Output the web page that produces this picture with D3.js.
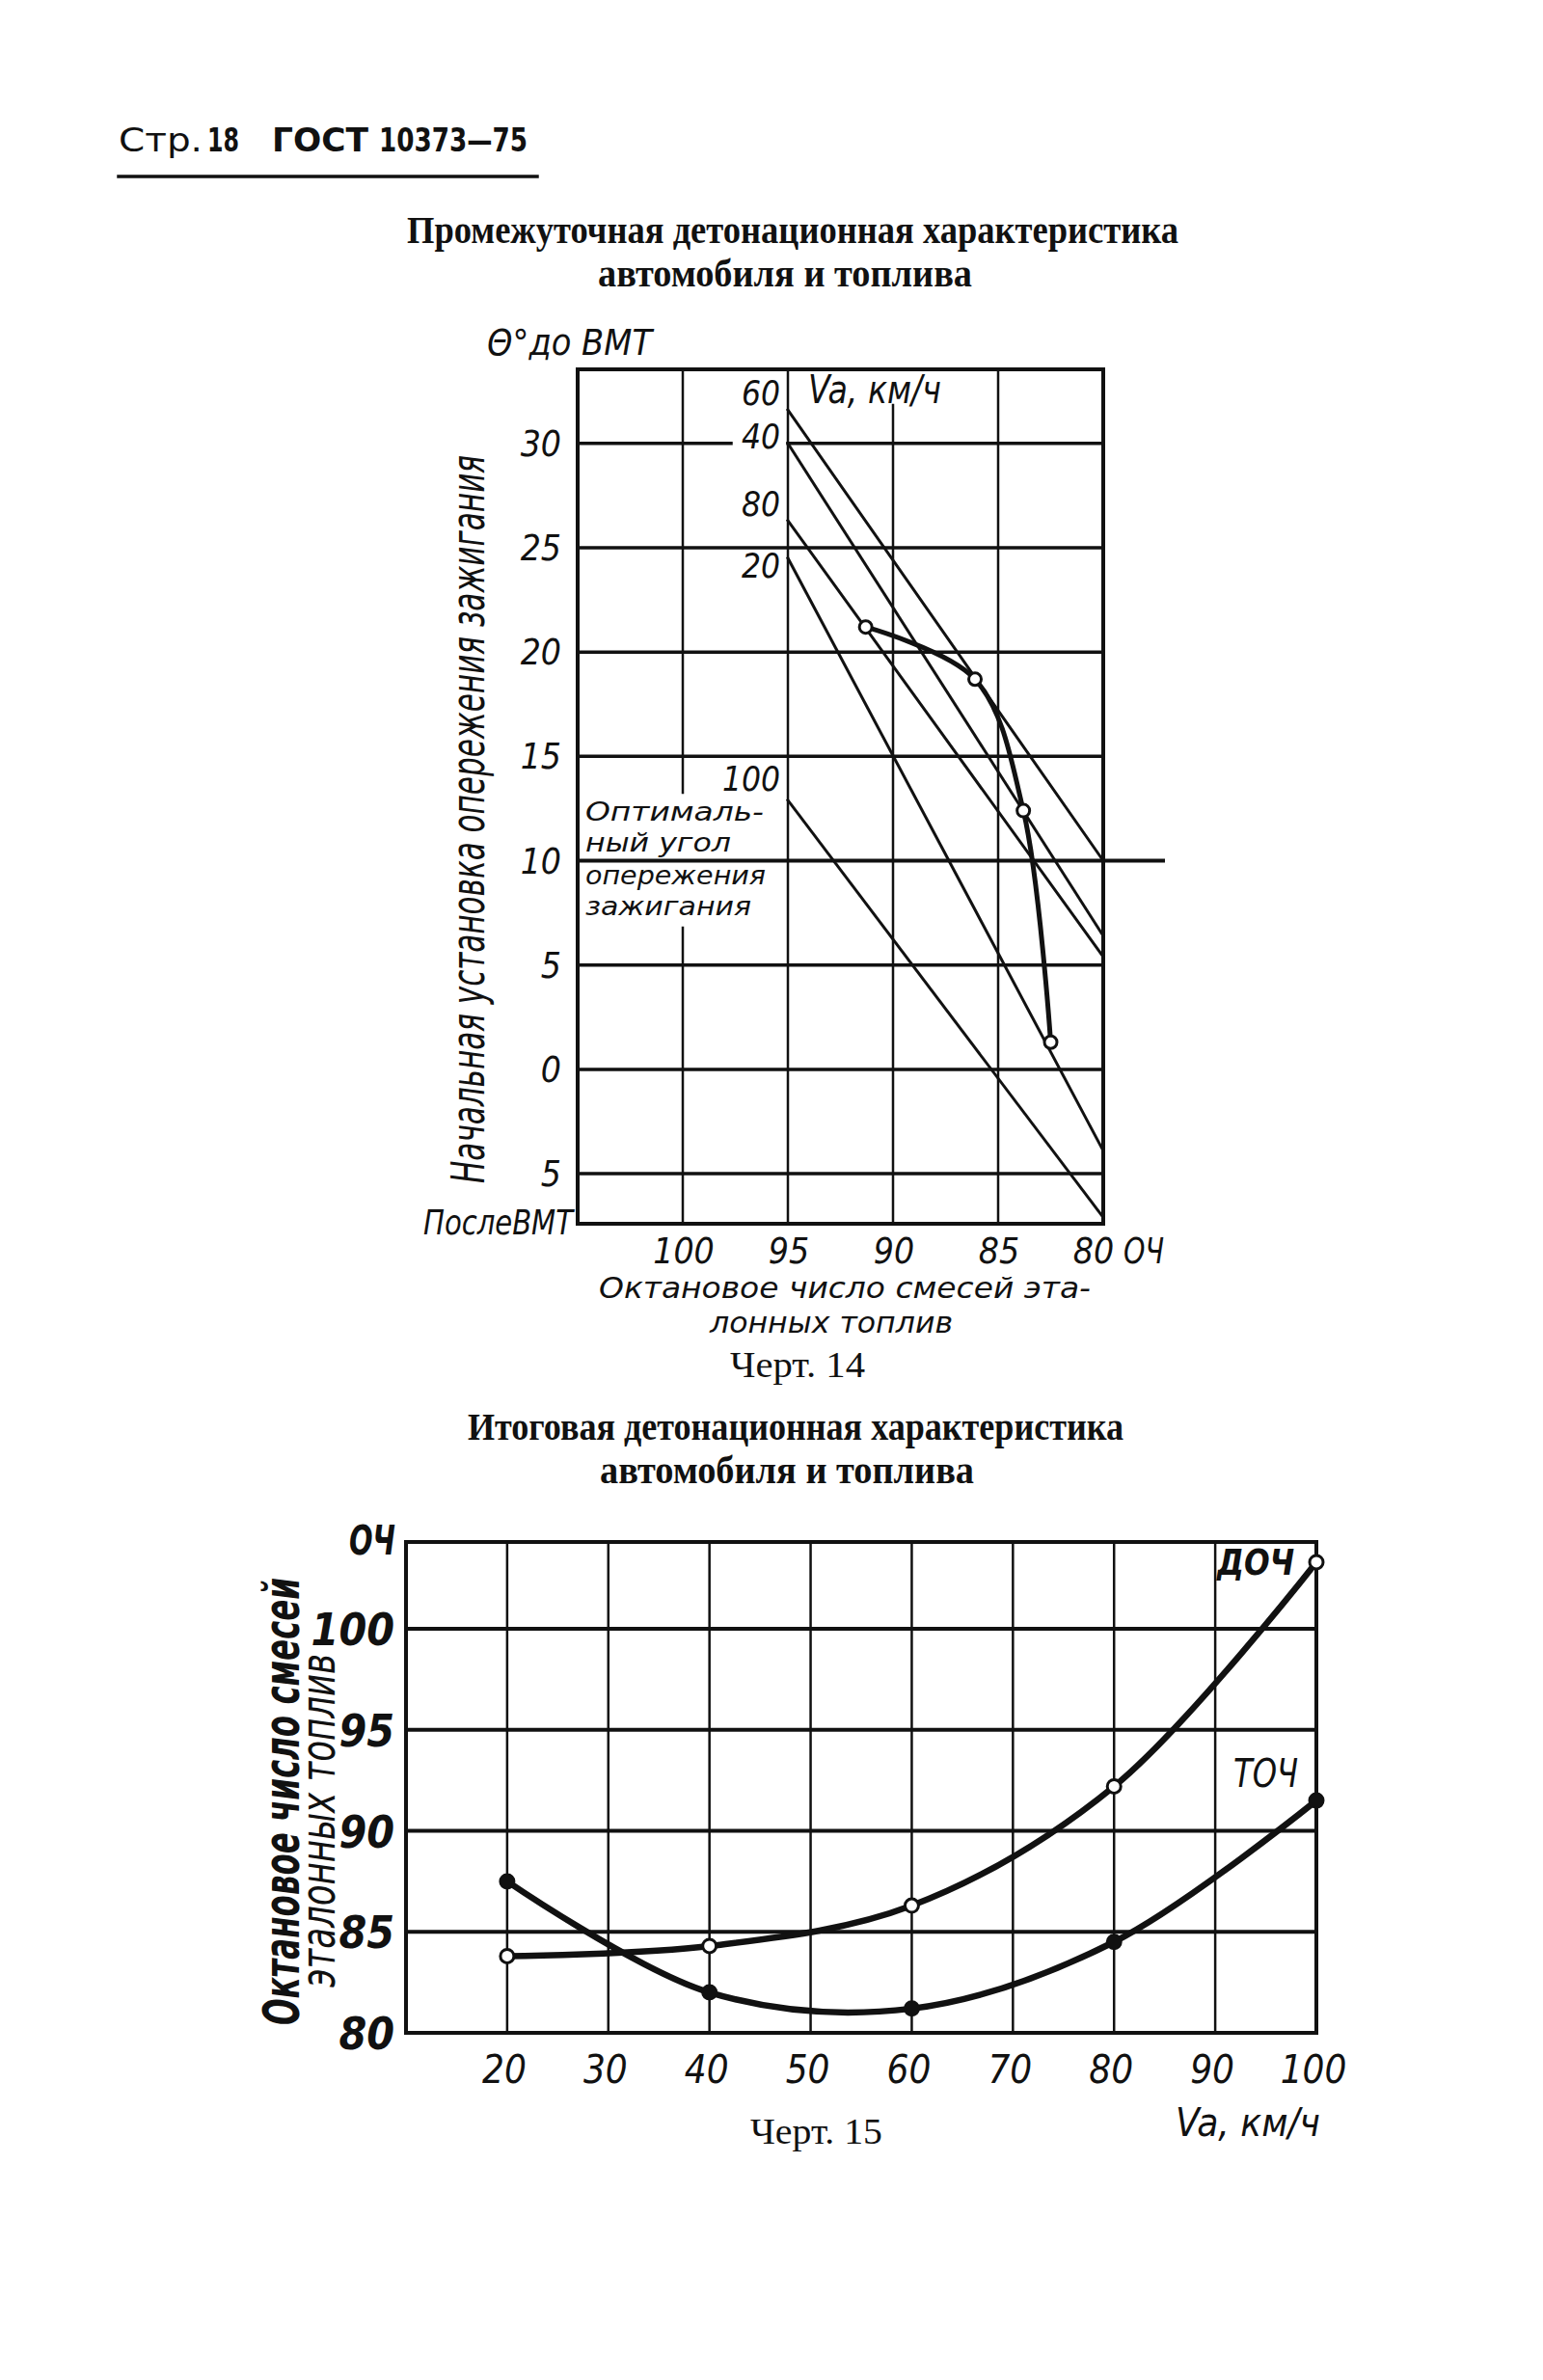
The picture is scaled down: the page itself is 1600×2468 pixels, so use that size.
<!DOCTYPE html>
<html><head><meta charset="utf-8">
<script src="https://cdn.jsdelivr.net/npm/d3@7"></script>
<style>html,body{margin:0;padding:0;background:#fff}</style>
</head><body>
<script>
// ---------- DATA ----------
// Chart 14 (intermediate characteristic)
const octaneTicks = [100, 95, 90, 85, 80];
const advanceTicks = [30, 25, 20, 15, 10, 5, 0, -5];
const vaLineSpeeds = [60, 40, 80, 20, 100];
const vaLineAt95 = [31.6, 30.0, 26.3, 24.5, 12.9];   // advance at ОЧ 95
const vaLineAt80 = [10.0, 6.4, 5.4, -3.9, -7.1];     // advance at ОЧ 80
const optOctane = [91.3, 86.1, 83.8, 82.5];
const optAdvance = [21.2, 18.7, 12.4, 1.3];
const optimalAngle = 10;
// Chart 15 (final characteristic)
const speedTicks = [20, 30, 40, 50, 60, 70, 80, 90, 100];
const octaneTicks2 = [100, 95, 90, 85, 80];
const vaPoints = [20, 40, 60, 80, 100];
const dochValues = [83.8, 84.3, 86.3, 92.2, 103.3];
const tochValues = [87.5, 82.0, 81.2, 84.5, 91.5];

// ---------- SETUP ----------
const W = 1600, H = 2468, INK = "#111";
const svg = d3.select("body").append("svg").attr("width", W).attr("height", H);
svg.append("rect").attr("width", W).attr("height", H).attr("fill", "#fff");

const DRAFT = "'DejaVu Sans Condensed', 'DejaVu Sans', sans-serif";
const SERIF = "'Liberation Serif', 'DejaVu Serif', serif";
const SANS = "'DejaVu Sans', 'Liberation Sans', sans-serif";

function styleText(t, o) {
  return t.attr("fill", INK)
    .attr("font-family", o.family || DRAFT)
    .attr("font-size", o.size || 34)
    .attr("font-style", o.style || "normal")
    .attr("font-weight", o.weight || "normal")
    .attr("text-anchor", o.anchor || "start");
}
function txt(x, y, s, o) {
  const t = styleText(svg.append("text").attr("x", x).attr("y", y).text(s), o);
  if (o.len) t.attr("textLength", o.len).attr("lengthAdjust", "spacingAndGlyphs");
  if (o.rot) t.attr("transform", `rotate(${o.rot},${x},${y})`);
  return t;
}
// multi-line block as one text element: lines = [[x, y, string, len], ...]
function block(lines, o) {
  const t = styleText(svg.append("text"), o);
  lines.forEach(([x, y, s, len]) => {
    const sp = t.append("tspan").attr("x", x).attr("y", y).text(s);
    if (len) sp.attr("textLength", len).attr("lengthAdjust", "spacingAndGlyphs");
  });
  return t;
}
function seg(x1, y1, x2, y2, w) {
  svg.append("line").attr("x1", x1).attr("y1", y1).attr("x2", x2).attr("y2", y2)
    .attr("stroke", INK).attr("stroke-width", w).attr("stroke-linecap", "square");
}

// ---------- HEADER ----------
txt(123, 157, "Стр.", {family: SANS, size: 34, len: 87});
txt(215, 157, "18", {family: SANS, size: 34, weight: "bold", len: 33});
txt(282, 157, "ГОСТ", {family: SANS, size: 34, weight: "bold", len: 100});
txt(393, 157, "10373—75", {family: SANS, size: 34, weight: "bold", len: 154});
seg(123, 183, 557, 183, 3.5);

// ---------- CHART 14 ----------
const x1 = d3.scaleLinear().domain([105, 80]).range([599, 1144]);
const y1 = d3.scaleLinear().domain([-7.4, 33.55]).range([1269, 383]);
const L1 = x1(105), R1 = x1(80), T1 = y1(33.55), B1 = y1(-7.4);

block([[422, 252, "Промежуточная детонационная характеристика", 800],
       [620, 297, "автомобиля и топлива", 388]],
      {family: SERIF, size: 40, weight: "bold"});

// vertical gridlines
octaneTicks.slice(0, 4).forEach(v => {
  const xx = x1(v);
  if (v === 100) { seg(xx, T1, xx, 822, 2.5); seg(xx, 962, xx, B1, 2.5); }
  else if (v === 90) { seg(xx, 420, xx, B1, 2.5); }
  else seg(xx, T1, xx, B1, 2.5);
});
// horizontal gridlines
advanceTicks.forEach(v => {
  const yy = y1(v);
  if (v === 30) { seg(L1, yy, 758, yy, 3.5); seg(x1(95), yy, R1, yy, 3.5); }
  else if (v === optimalAngle) { seg(L1, yy, 1206, yy, 4); }
  else seg(L1, yy, R1, yy, 3.5);
});
// frame
svg.append("rect").attr("x", L1).attr("y", T1).attr("width", R1 - L1).attr("height", B1 - T1)
  .attr("fill", "none").attr("stroke", INK).attr("stroke-width", 4);

// Va lines
vaLineSpeeds.forEach((s, i) => {
  seg(x1(95), y1(vaLineAt95[i]), x1(80), y1(vaLineAt80[i]), 3);
});
// optimal curve
const optPts = optOctane.map((o, i) => [x1(o), y1(optAdvance[i])]);
svg.append("path").attr("d", d3.line().curve(d3.curveCatmullRom.alpha(0.5))(optPts))
  .attr("fill", "none").attr("stroke", INK).attr("stroke-width", 5);
svg.selectAll("c.opt").data(optPts).enter().append("circle")
  .attr("cx", d => d[0]).attr("cy", d => d[1]).attr("r", 6.5)
  .attr("fill", "#fff").attr("stroke", INK).attr("stroke-width", 3);

// labels chart 14
txt(505, 368, "Θ°до ВМТ", {style: "oblique", size: 38, len: 171});
advanceTicks.forEach(v => {
  txt(582, y1(v) + 13, String(Math.abs(v)), {style: "oblique", size: 37, anchor: "end"});
});
txt(439, 1280, "ПослеВМТ", {style: "oblique", size: 36, len: 155});
octaneTicks.slice(0, 4).forEach(v => {
  txt(x1(v) + 1, 1310, String(v), {style: "oblique", size: 37, anchor: "middle"});
});
txt(x1(80) - 10, 1310, "80", {style: "oblique", size: 37, anchor: "middle"});
txt(1165, 1310, "ОЧ", {style: "oblique", size: 37, len: 42});
block([[621, 1346, "Октановое число смесей эта-", 510],
       [736, 1382, "лонных топлив", 252]],
      {style: "oblique", size: 30});
txt(757, 1428, "Черт. 14", {family: SERIF, size: 38, len: 140});
txt(838, 418, "Va, км/ч", {style: "oblique", size: 40, len: 138});
const vaLabelOffset = [-5, 5, -5, 20, -10];
vaLineSpeeds.forEach((s, i) => {
  txt(809, y1(vaLineAt95[i]) + vaLabelOffset[i], String(s), {style: "oblique", size: 35, anchor: "end"});
});
block([[607, 851, "Оптималь-", 185],
       [607, 883, "ный угол", 151],
       [607, 917, "опережения", 187],
       [607, 949, "зажигания", 172]],
      {style: "oblique", size: 27});
txt(502, 1227, "Начальная установка опережения зажигания", {style: "oblique", size: 48, len: 755, rot: -90});

// ---------- CHART 15 ----------
const x2 = d3.scaleLinear().domain([10, 100]).range([421, 1365]);
const y2 = d3.scaleLinear().domain([80, 104.3]).range([2108, 1599]);
const L2 = x2(10), R2 = x2(100), T2 = y2(104.3), B2 = y2(80);

block([[485, 1493, "Итоговая детонационная характеристика", 680],
       [622, 1538, "автомобиля и топлива", 388]],
      {family: SERIF, size: 40, weight: "bold"});

speedTicks.slice(0, 8).forEach(v => seg(x2(v), T2, x2(v), B2, 2.5));
octaneTicks2.slice(0, 4).forEach(v => seg(L2, y2(v), R2, y2(v), 4));
svg.append("rect").attr("x", L2).attr("y", T2).attr("width", R2 - L2).attr("height", B2 - T2)
  .attr("fill", "none").attr("stroke", INK).attr("stroke-width", 4);

const line2 = d3.line().curve(d3.curveCatmullRom.alpha(0.5)).x((d, i) => x2(vaPoints[i])).y(d => y2(d));
svg.append("path").attr("d", line2(dochValues)).attr("fill", "none").attr("stroke", INK).attr("stroke-width", 6.5);
svg.append("path").attr("d", line2(tochValues)).attr("fill", "none").attr("stroke", INK).attr("stroke-width", 6.5);
svg.selectAll("c.doch").data(dochValues).enter().append("circle")
  .attr("cx", (d, i) => x2(vaPoints[i])).attr("cy", d => y2(d)).attr("r", 7)
  .attr("fill", "#fff").attr("stroke", INK).attr("stroke-width", 3);
svg.selectAll("c.toch").data(tochValues).enter().append("circle")
  .attr("cx", (d, i) => x2(vaPoints[i])).attr("cy", d => y2(d)).attr("r", 7.5)
  .attr("fill", INK).attr("stroke", INK).attr("stroke-width", 2);

octaneTicks2.forEach(v => {
  txt(409, y2(v) + 17, String(v), {style: "oblique", weight: "bold", size: 46, anchor: "end"});
});
txt(362, 1612, "ОЧ", {style: "oblique", weight: "bold", size: 42, len: 48});
speedTicks.forEach(v => {
  txt(x2(v) - 3, 2160, String(v), {style: "oblique", size: 40, anchor: "middle"});
});
txt(1219, 2215, "Va, км/ч", {style: "oblique", size: 40, len: 150});
txt(778, 2223, "Черт. 15", {family: SERIF, size: 38, len: 137});
txt(1262, 1633, "ДОЧ", {style: "oblique", weight: "bold", size: 38, len: 80});
txt(1279, 1853, "ТОЧ", {style: "oblique", size: 40, len: 67});
txt(310, 2100, "Октановое число смесей", {style: "oblique", weight: "bold", size: 52, len: 464, rot: -90});
txt(347, 2061, "эталонных топлив", {style: "oblique", size: 50, len: 346, rot: -90});
</script>
</body></html>
